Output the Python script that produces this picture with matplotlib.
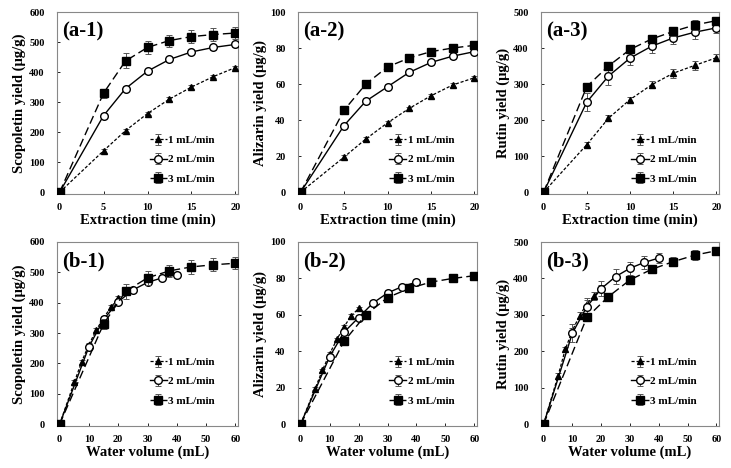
import matplotlib
matplotlib.use("Agg")
import matplotlib.pyplot as plt

plt.rcParams['font.family'] = ['Liberation Serif', 'DejaVu Serif']
plt.rcParams['font.weight'] = 'bold'

# extraction time (min) and water volume (mL) for each flow rate
time = [0, 5, 7.5, 10, 12.5, 15, 17.5, 20]
vol_1 = [0, 5, 7.5, 10, 12.5, 15, 17.5, 20]
vol_2 = [0, 10, 15, 20, 25, 30, 35, 40]
vol_3 = [0, 15, 22.5, 30, 37.5, 45, 52.5, 60]

scop_1 = [0, 138, 205, 262, 310, 350, 385, 415]
scop_2 = [0, 255, 345, 403, 442, 467, 482, 492]
scop_3 = [0, 330, 437, 482, 505, 518, 525, 530]
scop_err_1 = [0, 6, 6, 6, 6, 6, 6, 6]
scop_err_2 = [0, 8, 8, 8, 8, 8, 8, 8]
scop_err_3 = [0, 15, 25, 22, 20, 22, 22, 20]

aliz_1 = [0, 19.5, 29.5, 38.5, 46.5, 53.5, 59.5, 63.5]
aliz_2 = [0, 37, 50.5, 58.5, 66.5, 72, 75.5, 78]
aliz_3 = [0, 45.5, 60, 69.5, 74.5, 78, 80, 81.5]
aliz_err_1 = [0, 1, 1, 1, 1, 1, 1, 1]
aliz_err_2 = [0, 1.5, 1.5, 1.5, 1.5, 1.5, 1.5, 1.5]
aliz_err_3 = [0, 1, 1, 1, 1, 1, 1, 1]

rutin_1 = [0, 132, 205, 257, 298, 330, 352, 373]
rutin_2 = [0, 250, 322, 372, 405, 428, 444, 456]
rutin_3 = [0, 293, 350, 396, 425, 446, 464, 476]
rutin_err_1 = [0, 8, 8, 8, 10, 12, 12, 10]
rutin_err_2 = [0, 25, 25, 20, 20, 18, 18, 15]
rutin_err_3 = [0, 10, 10, 10, 10, 12, 14, 10]

labels = ['1 mL/min', '2 mL/min', '3 mL/min']
compounds = [
    ('Scopoletin yield (\u03bcg/g)', [scop_1, scop_2, scop_3],
     [scop_err_1, scop_err_2, scop_err_3], 600, 100),
    ('Alizarin yield (\u03bcg/g)', [aliz_1, aliz_2, aliz_3],
     [aliz_err_1, aliz_err_2, aliz_err_3], 100, 20),
    ('Rutin yield (\u03bcg/g)', [rutin_1, rutin_2, rutin_3],
     [rutin_err_1, rutin_err_2, rutin_err_3], 500, 100),
]

styles = [
    dict(marker='^', mfc='black', ls=(0, (2.5, 1.5)), lw=0.9, ms=5),
    dict(marker='o', mfc='white', ls='-', lw=1.0, ms=5.5),
    dict(marker='s', mfc='black', ls=(0, (6, 3)), lw=1.0, ms=5.5),
]

lefts = [57, 298, 541]
widths = [181, 179, 178]
W, H = 731, 468
fig = plt.figure(figsize=(7.31, 4.68), dpi=100)

for row in range(2):
    top, bottom = (12, 194) if row == 0 else (242, 426)
    for col in range(3):
        ax = fig.add_axes([lefts[col] / W, 1 - bottom / H, widths[col] / W, (bottom - top) / H])
        ylab, ys, errs, ymax, ystep = compounds[col]
        xs = [time, time, time] if row == 0 else [vol_1, vol_2, vol_3]
        for k in range(3):
            st = styles[k]
            ax.errorbar(xs[k], ys[k], yerr=errs[k], color='black', ecolor='#555555',
                        elinewidth=0.7, capsize=2, capthick=0.7,
                        marker=st['marker'], mfc=st['mfc'], mec='black',
                        ms=st['ms'], ls=st['ls'], lw=st['lw'], label=labels[k],
                        zorder=3 + k)
        if row == 0:
            ax.set_xlim(-0.3, 20.3)
            ax.set_xticks([0, 5, 10, 15, 20])
            ax.set_xlabel('Extraction time (min)', fontsize=10.5, fontweight='bold', labelpad=1)
        else:
            ax.set_xlim(-0.9, 60.9)
            ax.set_xticks(range(0, 61, 10))
            ax.set_xlabel('Water volume (mL)', fontsize=10.5, fontweight='bold', labelpad=1)
        ax.set_ylim(-ymax * 0.01, ymax)
        ax.set_yticks(range(0, ymax + 1, ystep))
        ax.set_ylabel(ylab, fontsize=10.5, fontweight='bold', labelpad=2)
        ax.tick_params(direction='in', length=2, width=0.6, labelsize=7.5, colors='black')
        ax.tick_params(axis='x', pad=6.5)
        ax.tick_params(axis='y', pad=9)
        for s in ax.spines.values():
            s.set_color('#888888')
            s.set_linewidth(0.8)
        tag = '(%s-%d)' % ('a' if row == 0 else 'b', col + 1)
        ax.text(0.03, 0.95, tag, transform=ax.transAxes, fontsize=15,
                fontweight='bold', va='top', ha='left')
        leg_y = 0.02 if row == 0 else 0.075
        ax.legend(loc='lower right', bbox_to_anchor=(0.91, leg_y), frameon=False,
                  fontsize=8, handlelength=1.6, handletextpad=0.1,
                  labelspacing=0.85, borderaxespad=0.2)

fig.savefig('out.png', dpi=100)
